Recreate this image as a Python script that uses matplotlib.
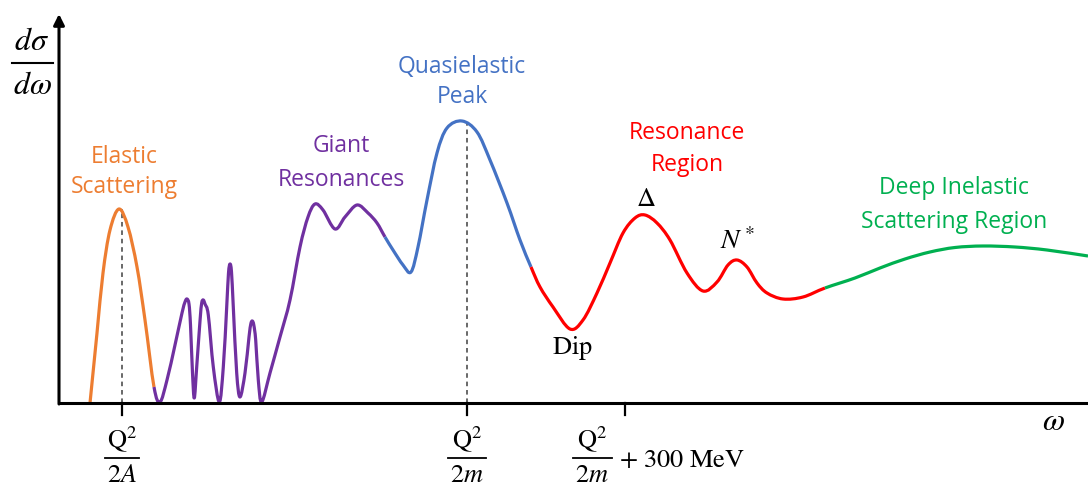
import matplotlib.pyplot as plt
import numpy as np
from matplotlib.path import Path
from matplotlib.patches import PathPatch

plt.rcParams['mathtext.fontset'] = 'stix'
plt.rcParams['font.family'] = ['Open Sans', 'DejaVu Sans']

# Schematic inclusive cross section d(sigma)/d(omega) vs energy transfer omega
# (arbitrary units), split into the regions that get their own colour
elastic_w = [31, 38, 44, 51, 60, 69, 78, 86, 95]
elastic_s = [0, 70, 130, 173, 194, 176, 136, 83, 16]

giant_w = [95, 101, 108, 116, 123, 126, 128, 130, 131.5, 133.5, 135.3, 137.7, 141,
           142.7, 144.3, 146, 149.3, 154.3, 160.3, 164.3, 167.7, 169.5, 171, 172.5,
           174.3, 177.7, 181, 186, 190, 191.8, 193.3, 194.8, 196.7, 199.3, 202.7,
           211, 221, 231, 241, 249, 256, 264, 276, 286, 298, 309, 318, 326]
giant_s = [16, 1, 23, 58, 90, 101, 104, 99, 78, 30, 5, 36, 82,
           100, 103, 99, 88, 36, 1, 36, 96, 130, 139, 131,
           96, 30, 6, 30, 66, 79, 82, 78, 63, 23, 1,
           30, 66, 103, 156, 186, 199, 193, 174, 186, 198, 190, 180, 166]

quasi_w = [326, 334, 344, 352, 359, 368, 378, 388, 403, 418, 431, 448, 461, 472]
quasi_s = [166, 153, 138, 131, 156, 203, 250, 275, 282, 271, 243, 200, 163, 136]

reson_w = [472, 481, 494, 511, 524, 538, 551, 564, 576, 586, 598, 611, 628, 644,
           658, 669, 678, 688, 698, 708, 724, 744, 766]
reson_s = [136, 116, 96, 74, 83, 110, 140, 170, 185, 188, 180, 163, 130, 112,
           121, 138, 143, 136, 120, 110, 104, 106, 115]

dis_w = [766, 796, 821, 846, 871, 896, 924, 956, 988, 1029]
dis_s = [115, 125, 135, 144, 151, 155.5, 157, 156, 153, 147]

# tick positions on the omega axis and the peaks marked with dashed lines
tick_w = [63, 408, 566]
dashed_top = [194, 280]

orange = '#ED7D31'
purple = '#7030A0'
blue = '#4472C4'
red = '#FF0000'
green = '#00B050'

pieces = [(elastic_w, elastic_s, orange), (giant_w, giant_s, purple),
          (quasi_w, quasi_s, blue), (reson_w, reson_s, red), (dis_w, dis_s, green)]

# join the pieces into one curve so the tangents stay continuous at colour changes
all_w, all_s, starts = [], [], []
for w, s, _ in pieces:
    skip = 1 if all_w else 0
    starts.append(len(all_w) - skip)
    all_w += list(w[skip:])
    all_s += list(s[skip:])
pts = np.column_stack([all_w, all_s]).astype(float)
ext = np.vstack([pts[0], pts, pts[-1]])


def piece_path(i0, i1):
    # Catmull-Rom between points i0..i1, handed to matplotlib as cubic Beziers
    verts = [pts[i0]]
    codes = [Path.MOVETO]
    for i in range(i0, i1):
        p0, p1, p2, p3 = ext[i], ext[i + 1], ext[i + 2], ext[i + 3]
        verts += [p1 + (p2 - p0) / 6, p2 - (p3 - p1) / 6, p2]
        codes += [Path.CURVE4] * 3
    return Path(verts, codes)


fig = plt.figure(figsize=(10.88, 4.87), dpi=100)
ax = fig.add_axes([0, 0, 1, 1])
ax.set_xlim(-59, 1029)
ax.set_ylim(-84, 403)
ax.axis('off')

for k, (w, s, c) in enumerate(pieces):
    i0 = starts[k]
    i1 = i0 + len(w) - 1
    ax.add_patch(PathPatch(piece_path(i0, i1), fill=False, edgecolor=c, lw=2.3,
                           capstyle='butt', joinstyle='round', zorder=3))

# axes
ax.plot([0, 1029], [0, 0], color='black', lw=2.2, solid_capstyle='butt', zorder=4)
ax.annotate('', xy=(0, 389), xytext=(0, -1),
            arrowprops=dict(arrowstyle='-|>', lw=2.2, color='black', mutation_scale=16,
                            shrinkA=0, shrinkB=0))
for t in tick_w:
    ax.plot([t, t], [0, -12], color='black', lw=1.6, zorder=4)
for t, top in zip(tick_w[:2], dashed_top):
    ax.plot([t, t], [0, top], color='#404040', lw=1.1, dashes=(3, 2.5), zorder=2)

# y label as a stacked fraction
ax.text(-27, 362, r'$d\sigma$', fontsize=23, ha='center', va='center')
ax.plot([-47, -6], [340, 340], color='black', lw=1.5)
ax.text(-27, 317, r'$d\omega$', fontsize=23, ha='center', va='center')
ax.text(994, -19, r'$\omega$', fontsize=23, ha='center', va='center')


def frac_label(x, den, half):
    ax.text(x, -37, r'$\mathrm{Q}^2$', fontsize=19, ha='center', va='center')
    ax.plot([x - half, x + half], [-55, -55], color='black', lw=1.3)
    ax.text(x, -72, den, fontsize=19, ha='center', va='center')


frac_label(63, r'$2A$', 17)
frac_label(408, r'$2m$', 19)
frac_label(533, r'$2m$', 19.5)
ax.text(560, -58, r'$+\ 300\ \mathrm{MeV}$', fontsize=19, ha='left', va='center')

# region labels
ax.text(65, 231, 'Elastic\nScattering', color=orange, fontsize=16.5,
        ha='center', va='center', linespacing=1.38)
ax.text(282, 240, 'Giant\nResonances', color=purple, fontsize=16.5,
        ha='center', va='center', linespacing=1.5)
ax.text(403, 321, 'Quasielastic\nPeak', color=blue, fontsize=16.5,
        ha='center', va='center', linespacing=1.38)
ax.text(628, 254, 'Resonance\nRegion', color=red, fontsize=16.5,
        ha='center', va='center', linespacing=1.42)
ax.text(895, 198, 'Deep Inelastic\nScattering Region', color=green, fontsize=16.5,
        ha='center', va='center', linespacing=1.5)

ax.text(587, 204, r'$\Delta$', fontsize=19, ha='center', va='center')
ax.text(679, 161, r'$N^*$', fontsize=20, ha='center', va='center')
ax.text(513, 55, r'$\mathrm{Dip}$', fontsize=19, ha='center', va='center')

fig.savefig('out.png', dpi=100)
